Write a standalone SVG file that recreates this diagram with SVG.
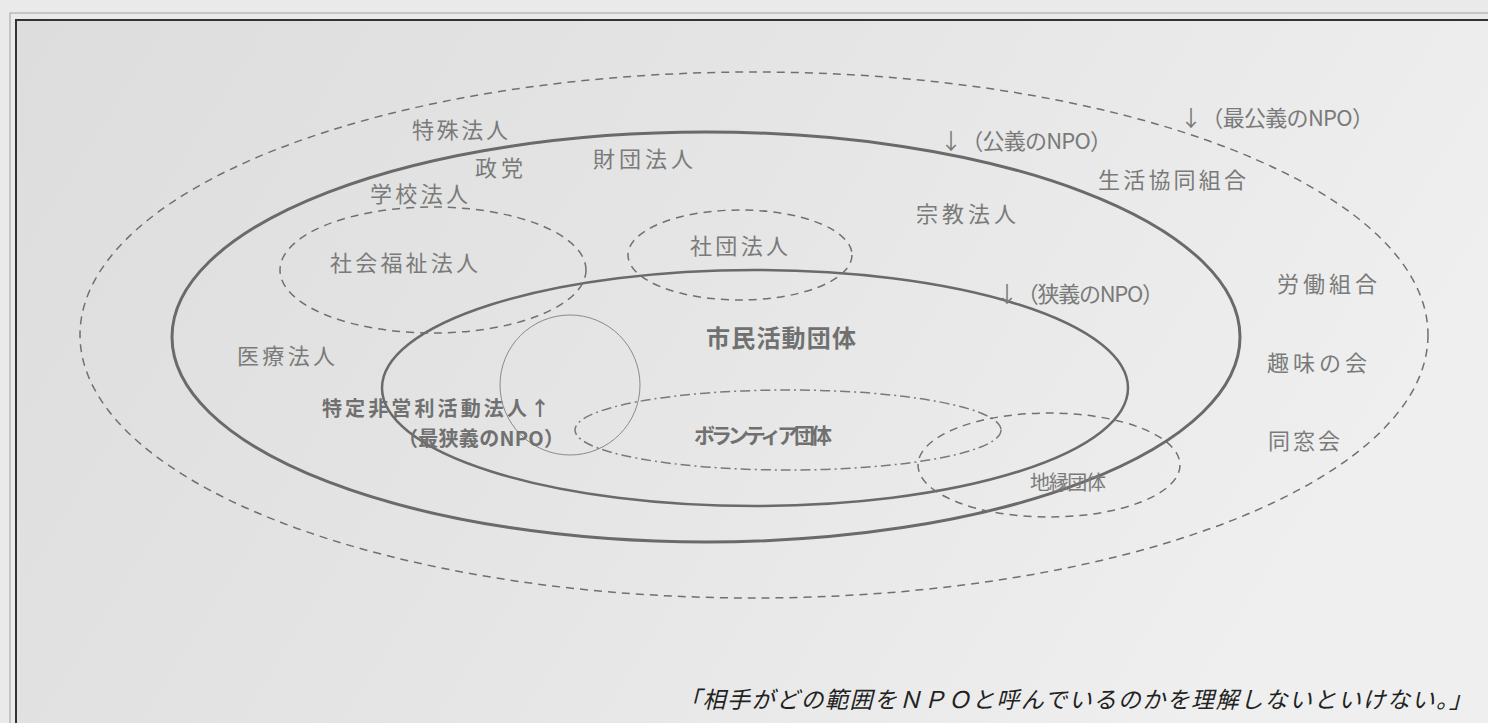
<svg xmlns="http://www.w3.org/2000/svg" width="1488" height="723" viewBox="0 0 1488 723">
<defs>
<linearGradient id="bg" x1="0" y1="0" x2="1" y2="0.3">
<stop offset="0" stop-color="#dcdddc"/>
<stop offset="0.5" stop-color="#e4e5e4"/>
<stop offset="1" stop-color="#eeefee"/>
</linearGradient>
<style>
.t{font-family:"Noto Sans CJK JP","Noto Sans CJK SC",sans-serif;font-size:22px;fill:#7a7a7a}
.b{font-weight:bold;fill:#707070}
.dash{fill:none;stroke:#707070;stroke-width:1.5;stroke-dasharray:8 6}
.solid{fill:none;stroke:#6a6a6a}
.cap{font-family:"Noto Sans CJK JP","Noto Sans CJK SC",sans-serif;font-size:23px;font-style:italic;fill:#222}
</style>
</defs>
<rect x="0" y="0" width="1488" height="723" fill="#e9eae9"/>
<rect x="16" y="20" width="1500" height="720" fill="url(#bg)"/>
<rect x="10" y="13" width="1500" height="730" fill="none" stroke="#a0a0a0" stroke-width="1"/>
<rect x="16" y="20" width="1500" height="720" fill="none" stroke="#333" stroke-width="2"/>

<g id="connectors">
<ellipse id="e-saikougi" cx="754" cy="335" rx="674" ry="263" class="dash"/>
<ellipse id="e-kougi" cx="706" cy="337" rx="534" ry="205" class="solid" stroke-width="3"/>
<ellipse id="e-kyougi" cx="755" cy="388" rx="373" ry="118" class="solid" stroke-width="2.5"/>
<ellipse id="e-fukushi" cx="433" cy="270" rx="153" ry="63" class="dash"/>
<ellipse id="e-shadan" cx="740" cy="255" rx="112" ry="45" class="dash"/>
<circle id="e-npo" cx="570" cy="385" r="70" fill="none" stroke="#8a8a8a" stroke-width="1"/>
<ellipse id="e-volunteer" cx="788" cy="430" rx="213" ry="40" fill="none" stroke="#7a7a7a" stroke-width="1.5" stroke-dasharray="10 4 2 4"/>
<ellipse id="e-chien" cx="1049" cy="465" rx="131" ry="52" class="dash"/>
</g>

<g id="n-tokushu"><text class="t" x="412" y="138" textLength="96">特殊法人</text></g>
<g id="n-seito"><text class="t" x="475" y="176" textLength="48">政党</text></g>
<g id="n-zaidan"><text class="t" x="593" y="167" textLength="100">財団法人</text></g>
<g id="n-gakko"><text class="t" x="370" y="202" textLength="98">学校法人</text></g>
<g id="n-fukushi"><text class="t" x="330" y="271" textLength="148">社会福祉法人</text></g>
<g id="n-shadan"><text class="t" x="690" y="254" textLength="98">社団法人</text></g>
<g id="n-shukyo"><text class="t" x="916" y="222" textLength="100">宗教法人</text></g>
<g id="n-kougi"><text class="t" x="940" y="149" textLength="172">↓（公義のNPO）</text></g>
<g id="n-saikougi"><text class="t" x="1180" y="126" textLength="194">↓（最公義のNPO）</text></g>
<g id="n-seikyo"><text class="t" x="1098" y="188" textLength="148">生活協同組合</text></g>
<g id="n-kyougi"><text class="t" x="996" y="302" textLength="168">↓（狭義のNPO）</text></g>
<g id="n-rodo"><text class="t" x="1277" y="292" textLength="100">労働組合</text></g>
<g id="n-shumi"><text class="t" x="1267" y="371" textLength="100">趣味の会</text></g>
<g id="n-doso"><text class="t" x="1268" y="449" textLength="72">同窓会</text></g>
<g id="n-iryo"><text class="t" x="237" y="364" textLength="98">医療法人</text></g>
<g id="n-shimin"><text class="t b" x="706" y="347" textLength="150" style="font-size:24px">市民活動団体</text></g>
<g id="n-tokutei"><text class="t b" x="322" y="416" textLength="228" style="font-size:20px">特定非営利活動法人↑</text><text class="t b" x="398" y="446" textLength="166" style="font-size:20px">（最狭義のNPO）</text></g>
<g id="n-volunteer"><text class="t b" x="694" y="443" textLength="138" style="font-size:21px">ボランティア団体</text></g>
<g id="n-chien"><text class="t" x="1030" y="490" textLength="76" style="font-size:20px">地縁団体</text></g>
<g id="caption"><text class="cap" x="678" y="708" textLength="794">「相手がどの範囲をＮＰＯと呼んでいるのかを理解しないといけない。」</text></g>
</svg>
